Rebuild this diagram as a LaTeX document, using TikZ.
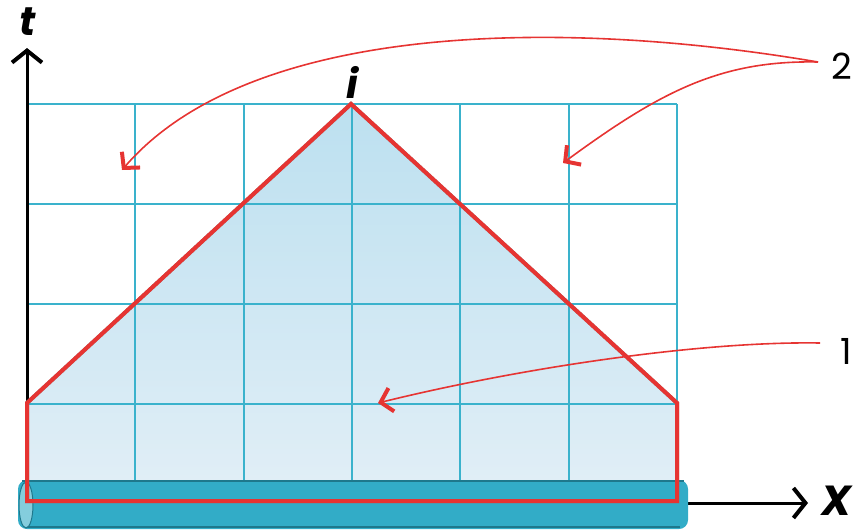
\documentclass[tikz,border=0pt]{standalone}
\usepackage{fontspec}
\setmainfont{Poppins}
\usetikzlibrary{arrows.meta}

\definecolor{gridcyan}{RGB}{58,178,204}
\definecolor{bandteal}{RGB}{50,172,199}
\definecolor{banddark}{RGB}{30,120,140}
\definecolor{fillhigh}{RGB}{188,224,240}
\definecolor{filllow}{RGB}{224,238,246}
\definecolor{markred}{RGB}{230,52,50}

\begin{document}
\begin{tikzpicture}[
    x=1pt, y=-1pt,
    gridline/.style  = {draw=gridcyan, line width=1.8pt},
    axis/.style      = {draw=black, line width=3pt, -{Straight Barb[length=12pt,width=30pt,line width=4pt]}},
    border/.style    = {draw=markred, line width=4pt, line join=miter},
    pointer/.style   = {draw=markred, line width=1.6pt, -{Straight Barb[length=11pt,width=24pt,line width=4pt]}},
    axislabel/.style = {font=\fontsize{40}{40}\selectfont\bfseries\itshape, inner sep=0pt},
    num/.style       = {font=\fontsize{36}{36}\selectfont, inner sep=0pt, anchor=east},
]
\useasboundingbox (0,0) rectangle (854,530);

% --- corners of the marked region ---
\coordinate (lb)   at (27,403);
\coordinate (apex) at (351,104);
\coordinate (rb)   at (677,403);
\coordinate (rbot) at (677,501);
\coordinate (lbot) at (27,501);
\coordinate (o)    at (27,503);

% --- x axis (under the band) ---
\coordinate (xend) at (808,503);
\draw[axis] (o) -- (xend);

% --- shaded region ---
\shade[top color=fillhigh, bottom color=filllow]
    (lb) -- (apex) -- (rb) -- (677,480) -- (27,480) -- cycle;

% --- grid ---
\foreach \c in {0,...,6}
    \draw[gridline] (27+108.33*\c,104) -- (27+108.33*\c,480);
\foreach \r in {104,204,304,404}
    \draw[gridline] (27,\r) -- (677,\r);

% --- band ---
\fill[bandteal, rounded corners=9pt] (18,480) rectangle (688,529);
\draw[banddark, line width=1.2pt] (22,481) -- (684,481);
\draw[banddark, line width=1.5pt] (26,527) -- (680,527);
\draw[banddark, fill=bandteal!60, line width=1pt] (26,505) ellipse (7 and 23);

% --- t axis ---
\coordinate (tend) at (27,48);
\draw[axis] (27,500) -- (tend);

% --- marked border ---
\draw[black!45, line width=4pt, shift={(1.5,1.5)}]
    (lb) -- (apex) -- (rb) -- (rbot) -- (lbot) -- cycle;
\draw[border] (lb) -- (apex) -- (rb) -- (rbot) -- (lbot) -- cycle;

% --- labels ---
\node[axislabel] (tlab) at (28,22)  {t};
\node[axislabel] (ilab) at (352,82) {i};
\node[axislabel, anchor=east, font=\fontsize{42}{42}\selectfont\bfseries\itshape] (xlab) at (852,501) {X};
\node[num] (lab2) at (852,66)  {2};
\node[num] (lab1) at (852,351) {1};

% --- pointers ---
\coordinate (s2) at (818,62);
\coordinate (s1) at (820,343);
\coordinate (p2a) at (122,170);
\coordinate (p2b) at (563,163);
\coordinate (p1)  at (378,403);

\draw[pointer] (s2) .. controls (560,18) and (250,22) .. (p2a);
\draw[pointer] (s2) .. controls (720,60) and (660,92) .. (p2b);
\draw[pointer] (s1) .. controls (700,341) and (520,368) .. (p1);

\end{tikzpicture}
\end{document}
